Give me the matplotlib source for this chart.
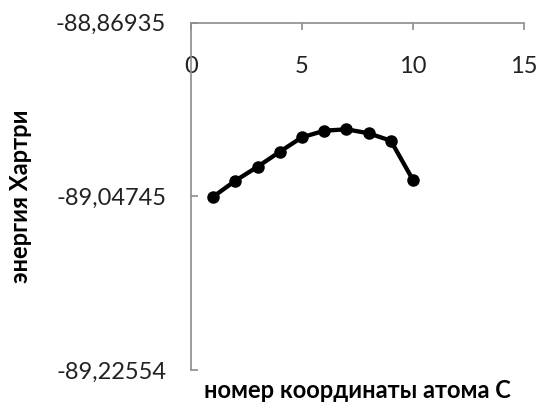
import numpy as np
import matplotlib.pyplot as plt
from matplotlib.ticker import FuncFormatter

atom = [1, 2, 3, 4, 5, 6, 7, 8, 9, 10]
energy = [-89.0479, -89.0315, -89.0172, -89.0018, -88.9870,
          -88.9803, -88.9788, -88.9829, -88.9905, -89.0308]
y_ticks = [-89.22554, -89.04745, -88.86935]
x_ticks = [0, 5, 10, 15]

plt.rcParams['font.family'] = ['Lato', 'DejaVu Sans']

fig = plt.figure(figsize=(5.37, 4.03), dpi=100)
ax = fig.add_axes([191/537, 1-370/403, 333/537, 347.5/403])

ax.plot(atom, energy, color='black', lw=3.1, marker='o', ms=8)

ax.set_xlim(0, 15)
ax.set_ylim(y_ticks[0], y_ticks[-1])
ax.set_xticks(x_ticks)
ax.set_yticks(y_ticks)
ax.yaxis.set_major_formatter(FuncFormatter(lambda v, p: f"{v:.5f}".replace('.', ',')))

axis_col = '#8c8c8c'
for s in ['bottom', 'right']:
    ax.spines[s].set_visible(False)
for s in ['top', 'left']:
    ax.spines[s].set_color(axis_col)
    ax.spines[s].set_linewidth(1.2)

ax.xaxis.tick_top()
ax.tick_params(axis='x', direction='in', length=5, width=1.2, color=axis_col,
               labelsize=17, labelcolor='#222222', pad=-39)
ax.tick_params(axis='y', direction='in', length=5, width=1.2, color=axis_col,
               labelsize=17, labelcolor='#222222', pad=18)

ax.set_xlabel('номер координаты атома С', fontsize=17, fontweight='bold')
ax.xaxis.set_label_position('bottom')
ax.xaxis.set_label_coords(0.5, -0.026)
ax.set_ylabel('энергия Хартри', fontsize=17, fontweight='bold')
ax.yaxis.set_label_coords(-0.477, 0.5)

fig.savefig('out.png', dpi=100)
